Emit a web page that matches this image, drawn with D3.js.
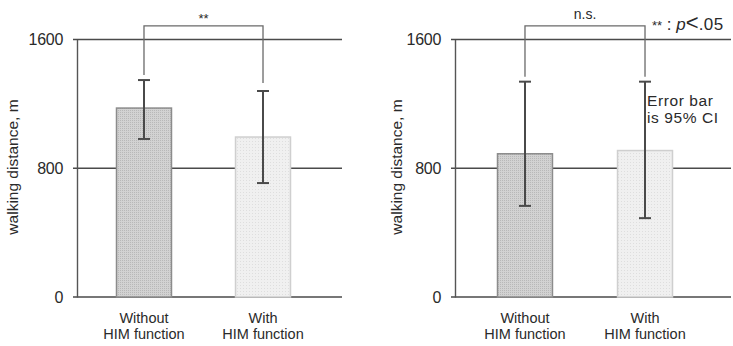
<!DOCTYPE html>
<html>
<head>
<meta charset="utf-8">
<script src="https://cdn.jsdelivr.net/npm/d3@7"></script>
<style>
  body { margin: 0; background: #fff; }
  svg text { font-family: "Liberation Sans", Arial, sans-serif; fill: #2a2a2a; }
</style>
</head>
<body>
<div id="chart"></div>
<script>
// data
const categories = ['Without\nHIM function', 'With\nHIM function'];
const tickValues = [0, 800, 1600];
const leftMeans = [1174, 994];
const leftLow = [982, 708];
const leftHigh = [1348, 1280];
const rightMeans = [890, 910];
const rightLow = [566, 490];
const rightHigh = [1338, 1338];
const leftSig = '**';
const rightSig = 'n.s.';

const width = 733, height = 346;
const svg = d3.select('#chart').append('svg')
  .attr('width', width).attr('height', height);

const defs = svg.append('defs');
function stipple(id, bg, dot, size) {
  const p = defs.append('pattern').attr('id', id)
    .attr('patternUnits', 'userSpaceOnUse').attr('width', size).attr('height', size);
  p.append('rect').attr('width', size).attr('height', size).attr('fill', bg);
  p.append('rect').attr('width', 1).attr('height', 1).attr('fill', dot);
}
stipple('darkFill', '#d2d2d2', '#b8b8b8', 2);
stipple('lightFill', '#f0f0f0', '#dedede', 3);
const fills = ['url(#darkFill)', 'url(#lightFill)'];
const strokes = ['#8c8c8c', '#cfcfcf'];

const y = d3.scaleLinear().domain([0, 1600]).range([297, 39.5]);

function panel(opt) {
  const g = svg.append('g');
  const x = d3.scaleBand().domain(categories)
    .range(opt.band).paddingInner(opt.pad).paddingOuter(0);

  // grid lines
  g.selectAll('.grid').data(tickValues).join('line')
    .attr('x1', opt.gridX[0]).attr('x2', opt.gridX[1])
    .attr('y1', d => y(d)).attr('y2', d => y(d))
    .attr('stroke', '#4a4a4a').attr('stroke-width', 1.6);

  // y axis
  const axis = g.append('g').attr('transform', `translate(${opt.axisX},0)`)
    .call(d3.axisLeft(y).tickValues(tickValues).tickFormat(d3.format('d'))
      .tickSize(0).tickPadding(14));
  axis.select('.domain').attr('stroke', '#555').attr('stroke-width', 1.4);
  axis.selectAll('text').attr('font-size', 16).attr('fill', '#2a2a2a')
    .attr('font-family', '"Liberation Sans", Arial, sans-serif')
    .attr('letter-spacing', -0.3);

  g.append('text')
    .attr('transform', `translate(${opt.labelX},167) rotate(-90)`)
    .attr('text-anchor', 'middle').attr('font-size', 15.5)
    .text('walking distance, m');

  // bars
  g.selectAll('.bar').data(opt.means).join('rect')
    .attr('x', (d, i) => x(categories[i]))
    .attr('width', x.bandwidth())
    .attr('y', d => y(d))
    .attr('height', d => y(0) - y(d))
    .attr('fill', (d, i) => fills[i])
    .attr('stroke', (d, i) => strokes[i])
    .attr('stroke-width', 1.5);

  // error bars
  const cx = i => x(categories[i]) + x.bandwidth() / 2;
  opt.means.forEach((m, i) => {
    const e = g.append('g').attr('stroke', '#4a4a4a').attr('stroke-width', 2);
    e.append('line').attr('x1', cx(i)).attr('x2', cx(i))
      .attr('y1', y(opt.low[i])).attr('y2', y(opt.high[i]));
    [opt.low[i], opt.high[i]].forEach(v => {
      e.append('line').attr('x1', cx(i) - 6).attr('x2', cx(i) + 6)
        .attr('y1', y(v)).attr('y2', y(v));
    });
  });

  // significance bracket
  const top = y(1685);
  const path = d3.path();
  path.moveTo(cx(0), y(opt.high[0]) - 5);
  path.lineTo(cx(0), top);
  path.lineTo(cx(1), top);
  path.lineTo(cx(1), y(opt.high[1]) - 8 + opt.legAdj);
  g.append('path').attr('d', path.toString())
    .attr('fill', 'none').attr('stroke', '#6a6a6a').attr('stroke-width', 1.3);
  g.append('text').attr('x', (cx(0) + cx(1)) / 2).attr('y', opt.sigY)
    .attr('text-anchor', 'middle').attr('font-size', opt.sigSize)
    .text(opt.sig);

  // category labels
  categories.forEach((c, i) => {
    c.split('\n').forEach((line, j) => {
      g.append('text').attr('x', cx(i)).attr('y', 323 + j * 16)
        .attr('text-anchor', 'middle').attr('font-size', 14.5)
        .text(line);
    });
  });
}

panel({
  band: [116.5, 290.5], pad: 0.538, gridX: [73, 342], axisX: 77, labelX: 18,
  means: leftMeans, low: leftLow, high: leftHigh, sig: leftSig,
  sigY: 23, sigSize: 13, legAdj: 0
});
panel({
  band: [497.5, 672.5], pad: 0.542, gridX: [451, 731], axisX: 455, labelX: 402,
  means: rightMeans, low: rightLow, high: rightHigh, sig: rightSig,
  sigY: 19, sigSize: 14, legAdj: 3
});

// notes
const note = svg.append('text').attr('x', 652).attr('y', 30).attr('font-size', 17);
note.append('tspan').attr('font-size', 13).text('**');
note.append('tspan').text(' : ');
note.append('tspan').attr('font-style', 'italic').text('p');
note.append('tspan').attr('font-size', 22).text('<');
note.append('tspan').attr('letter-spacing', 0.5).text('.05');

svg.append('text').attr('x', 647).attr('y', 106).attr('font-size', 15.5)
  .attr('letter-spacing', 0.6).text('Error bar');
svg.append('text').attr('x', 647).attr('y', 123).attr('font-size', 15.5)
  .attr('letter-spacing', 0.6).text('is 95% CI');
</script>
</body>
</html>
